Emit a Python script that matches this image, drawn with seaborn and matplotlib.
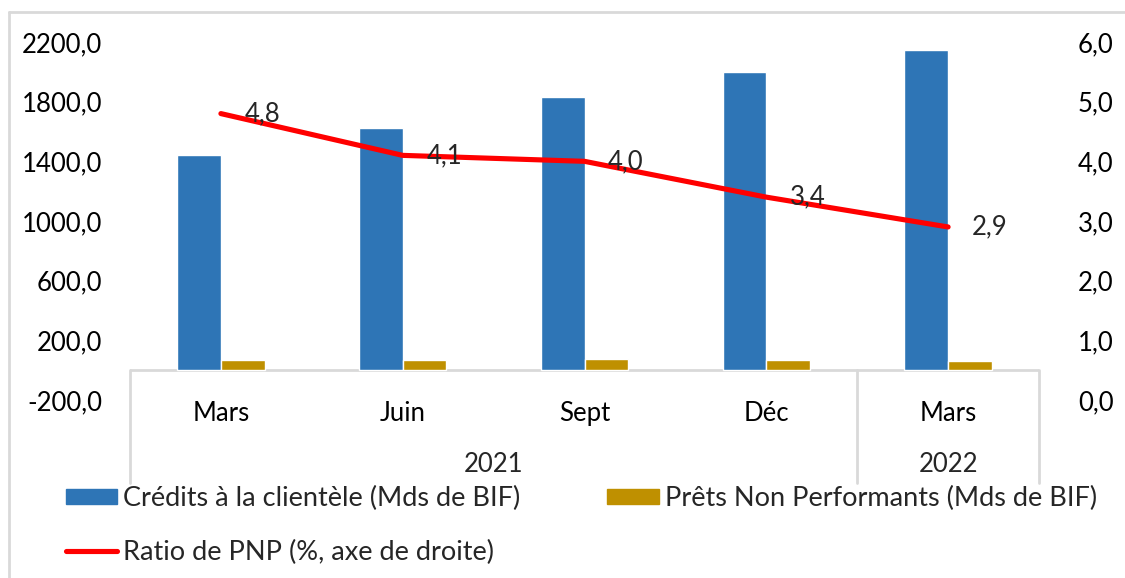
import numpy as np
import pandas as pd
import matplotlib
matplotlib.use("Agg")
import matplotlib.pyplot as plt
import seaborn as sns
from matplotlib.patches import Patch
from matplotlib.lines import Line2D

# ---- data ----
periods = ["Mars 2021", "Juin 2021", "Sept 2021", "Déc 2021", "Mars 2022"]
month_labels = ["Mars", "Juin", "Sept", "Déc", "Mars"]
years = ["2021", "2022"]
credits = [1440, 1625, 1830, 2000, 2145]
pnp = [69, 67, 73, 68, 62]
ratio = [4.8, 4.1, 4.0, 3.4, 2.9]
left_ticks = [-200, 200, 600, 1000, 1400, 1800, 2200]
right_ticks = [0, 1, 2, 3, 4, 5, 6]
series_names = ["Crédits à la clientèle (Mds de BIF)", "Prêts Non Performants (Mds de BIF)"]
line_name = "Ratio de PNP (%, axe de droite)"

BLUE = "#2E75B6"
GOLD = "#BF9000"
RED = "#FF0000"
GRID = "#D9D9D9"

sns.set_theme(style="white")
plt.rcParams["font.family"] = ["Lato", "DejaVu Sans"]

W, H = 1125, 578
fig = plt.figure(figsize=(W / 100, H / 100), dpi=100)

def fx(px):
    return px / W

def fy(py):
    return 1 - py / H

ax_left, ax_right, ax_top, ax_bot = 130, 1039, 42, 400
ax = fig.add_axes([fx(ax_left), fy(ax_bot), fx(ax_right - ax_left), (ax_bot - ax_top) / H])

df = pd.DataFrame({
    "period": periods * 2,
    "value": credits + pnp,
    "serie": [series_names[0]] * 5 + [series_names[1]] * 5,
})
sns.barplot(data=df, x="period", y="value", hue="serie", order=periods,
            hue_order=series_names, palette=[BLUE, GOLD], width=0.48, gap=0,
            saturation=1, legend=False, ax=ax, zorder=2)

ax.set_xlim(-0.5, 4.5)
ax.set_ylim(-200, 2200)
for s in ax.spines.values():
    s.set_visible(False)
ax.set_xlabel("")
ax.set_ylabel("")
ax.set_yticks(left_ticks)
ax.set_yticklabels([f"{v:.1f}".replace(".", ",") for v in left_ticks])
ax.tick_params(axis="y", length=0, pad=20, labelsize=18.5, labelcolor="black")
ax.set_xticks(range(len(periods)))
ax.set_xticklabels(month_labels)
ax.tick_params(axis="x", length=0, pad=1, labelsize=18.5, labelcolor="black")
ax.grid(False)

# category axis line at 0 and group separators
ax.axhline(0, color=GRID, lw=2, zorder=1)
bt = ax.get_xaxis_transform()
y0_frac = (0 - (-200)) / 2400
ysep = (ax_bot - 483) / (ax_bot - ax_top)
for xs in [-0.5, 3.5, 4.5]:
    ax.plot([xs, xs], [y0_frac, ysep], color=GRID, lw=2, transform=bt, clip_on=False)
yyear = (ax_bot - 465) / (ax_bot - ax_top)
ax.text(1.5, yyear, years[0], transform=bt, ha="center", va="center", fontsize=18.5)
ax.text(4.0, yyear, years[1], transform=bt, ha="center", va="center", fontsize=18.5)

# right axis line
ax2 = ax.twinx()
sns.lineplot(x=np.arange(len(ratio)), y=ratio, ax=ax2, color=RED, lw=3.7,
             solid_capstyle="round", zorder=3)
ax2.set_ylim(0, 6)
ax2.set_xlim(-0.5, 4.5)
for s in ax2.spines.values():
    s.set_visible(False)
ax2.set_yticks(right_ticks)
ax2.set_yticklabels([f"{v:.1f}".replace(".", ",") for v in right_ticks])
ax2.tick_params(axis="y", length=0, pad=28, labelsize=18.5, labelcolor="black")
ax2.set_ylabel("")
ax2.grid(False)
for i, r in enumerate(ratio):
    ax2.annotate(f"{r:.1f}".replace(".", ","), (i, r), xytext=(17, 0),
                 textcoords="offset points", ha="left", va="center",
                 fontsize=18.5, zorder=5)

# legend
handles = [Patch(color=BLUE), Line2D([0], [0], color=RED, lw=3.7), Patch(color=GOLD)]
labels = [series_names[0], line_name, series_names[1]]
fig.legend(handles, labels, loc="upper left", bbox_to_anchor=(fx(66), fy(486)),
           ncol=2, frameon=False, fontsize=19.5, handlelength=1.9, handleheight=0.52,
           handletextpad=0.22, columnspacing=3.2, borderpad=0, borderaxespad=0,
           labelspacing=1.05)

# outer chart border
fig.add_artist(Line2D([fx(9), fx(9)], [fy(12), 0], color=GRID, lw=2))
fig.add_artist(Line2D([fx(9), 1], [fy(12), fy(12)], color=GRID, lw=2))

fig.savefig("out.png", dpi=100, facecolor="white")
